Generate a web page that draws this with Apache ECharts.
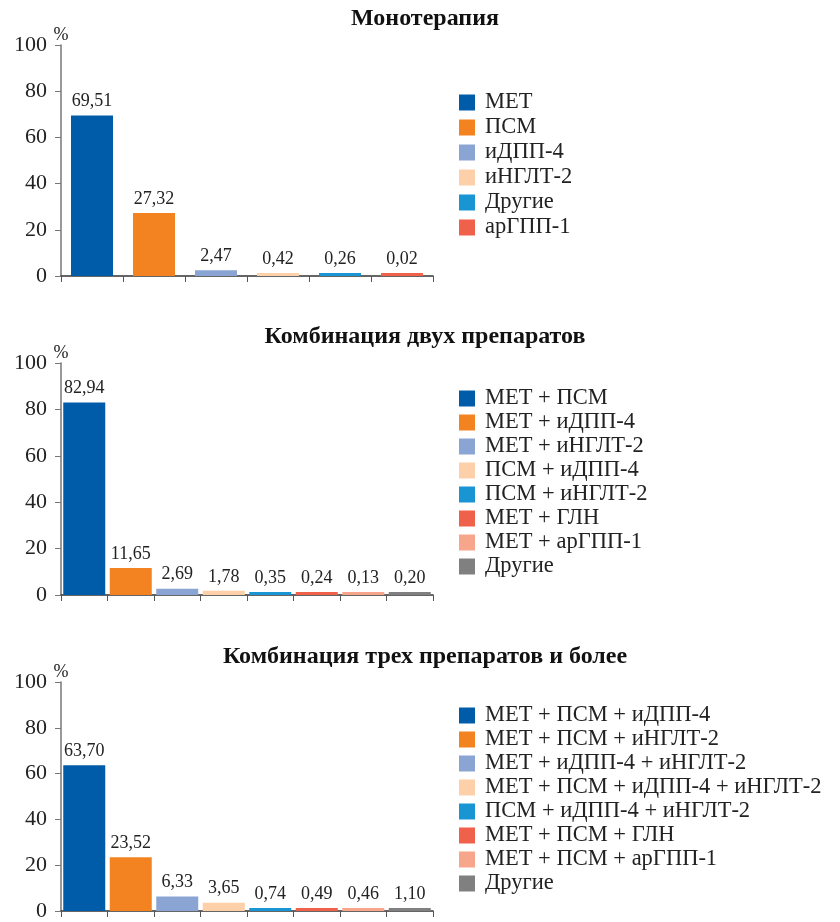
<!DOCTYPE html>
<html>
<head>
<meta charset="utf-8">
<script src="https://cdn.jsdelivr.net/npm/echarts@6/dist/echarts.min.js"></script>
<style>
  html, body { margin: 0; padding: 0; background: #fff; }
  #chart { width: 840px; height: 922px; }
</style>
</head>
<body>
<div id="chart"></div>
<script>
// Монотерапия
const monoNames = ['МЕТ', 'ПСМ', 'иДПП-4', 'иНГЛТ-2', 'Другие', 'арГПП-1'];
const monoValues = [69.51, 27.32, 2.47, 0.42, 0.26, 0.02];
const monoColors = ['#005ca9', '#f38321', '#8aa5d3', '#fdd0a9', '#1a95d3', '#f0614b'];

// Комбинация двух препаратов
const dualNames = ['МЕТ + ПСМ', 'МЕТ + иДПП-4', 'МЕТ + иНГЛТ-2', 'ПСМ + иДПП-4',
  'ПСМ + иНГЛТ-2', 'МЕТ + ГЛН', 'МЕТ + арГПП-1', 'Другие'];
const dualValues = [82.94, 11.65, 2.69, 1.78, 0.35, 0.24, 0.13, 0.20];

// Комбинация трех препаратов и более
const tripleNames = ['МЕТ + ПСМ + иДПП-4', 'МЕТ + ПСМ + иНГЛТ-2', 'МЕТ + иДПП-4 + иНГЛТ-2',
  'МЕТ + ПСМ + иДПП-4 + иНГЛТ-2', 'ПСМ + иДПП-4 + иНГЛТ-2', 'МЕТ + ПСМ + ГЛН',
  'МЕТ + ПСМ + арГПП-1', 'Другие'];
const tripleValues = [63.70, 23.52, 6.33, 3.65, 0.74, 0.49, 0.46, 1.10];

const comboColors = ['#005ca9', '#f38321', '#8aa5d3', '#fdd0a9', '#1a95d3', '#f0614b', '#f7a68b', '#808080'];

const titles = ['Монотерапия', 'Комбинация двух препаратов', 'Комбинация трех препаратов и более'];

const FONT = 'Liberation Serif';

// раскладка трёх панелей
const panels = [
  { names: monoNames, values: monoValues, colors: monoColors, top: 45, height: 231, titleTop: 2, legendTop: 86, legendGap: 2 },
  { names: dualNames, values: dualValues, colors: comboColors, top: 363, height: 232, titleTop: 320, legendTop: 382, legendGap: 1 },
  { names: tripleNames, values: tripleValues, colors: comboColors, top: 682, height: 231, titleTop: 640, legendTop: 699, legendGap: 1 }
];

const fmt = v => v.toFixed(2).replace('.', ',');

const option = {
  animation: false,
  title: [],
  legend: [],
  grid: [],
  xAxis: [],
  yAxis: [],
  series: []
};

panels.forEach((p, gi) => {
  option.title.push({
    text: titles[gi],
    left: 420,
    textAlign: 'center',
    top: p.titleTop,
    textStyle: { fontFamily: FONT, fontSize: 24, fontWeight: 'bold', color: '#111' }
  });
  option.grid.push({ left: 61, width: 372, top: p.top, height: p.height });
  option.xAxis.push({
    type: 'category',
    gridIndex: gi,
    data: p.names,
    axisLine: { lineStyle: { color: '#333', width: 1.5 } },
    axisTick: { show: true, interval: 0, length: 6, lineStyle: { color: '#555' } },
    axisLabel: { show: false }
  });
  option.yAxis.push({
    type: 'value',
    gridIndex: gi,
    min: 0,
    max: 100,
    interval: 20,
    name: '%',
    nameGap: 1,
    nameTextStyle: { fontFamily: FONT, fontSize: 18, color: '#222', align: 'center' },
    axisLine: { show: true, lineStyle: { color: '#777', width: 1.5 } },
    axisTick: { show: true, length: 6, lineStyle: { color: '#777' } },
    axisLabel: { fontFamily: FONT, fontSize: 22, color: '#222', margin: 14 },
    splitLine: { show: false }
  });
  const legendData = [];
  p.names.forEach((name, i) => {
    const sname = name + '#' + gi;
    legendData.push(sname);
    const data = p.names.map((_, j) => (j === i ? p.values[i] : '-'));
    option.series.push({
      type: 'bar',
      name: sname,
      xAxisIndex: gi,
      yAxisIndex: gi,
      stack: 'g' + gi,
      barWidth: 42,
      barMinHeight: 3,
      data: data,
      itemStyle: { color: p.colors[i] },
      label: {
        show: true,
        position: 'top',
        distance: 5,
        fontFamily: FONT,
        fontSize: 18,
        color: '#222',
        formatter: d => fmt(d.value)
      }
    });
  });
  option.legend.push({
    data: legendData,
    orient: 'vertical',
    left: 454,
    top: p.legendTop,
    height: 260,
    itemWidth: 16,
    itemHeight: 16,
    itemGap: p.legendGap,
    icon: 'rect',
    selectedMode: false,
    formatter: n => n.split('#')[0],
    textStyle: { fontFamily: FONT, fontSize: 22.5, color: '#222', padding: [0, 0, 0, 5] }
  });
});

const chart = echarts.init(document.getElementById('chart'));
chart.setOption(option);
</script>
</body>
</html>
